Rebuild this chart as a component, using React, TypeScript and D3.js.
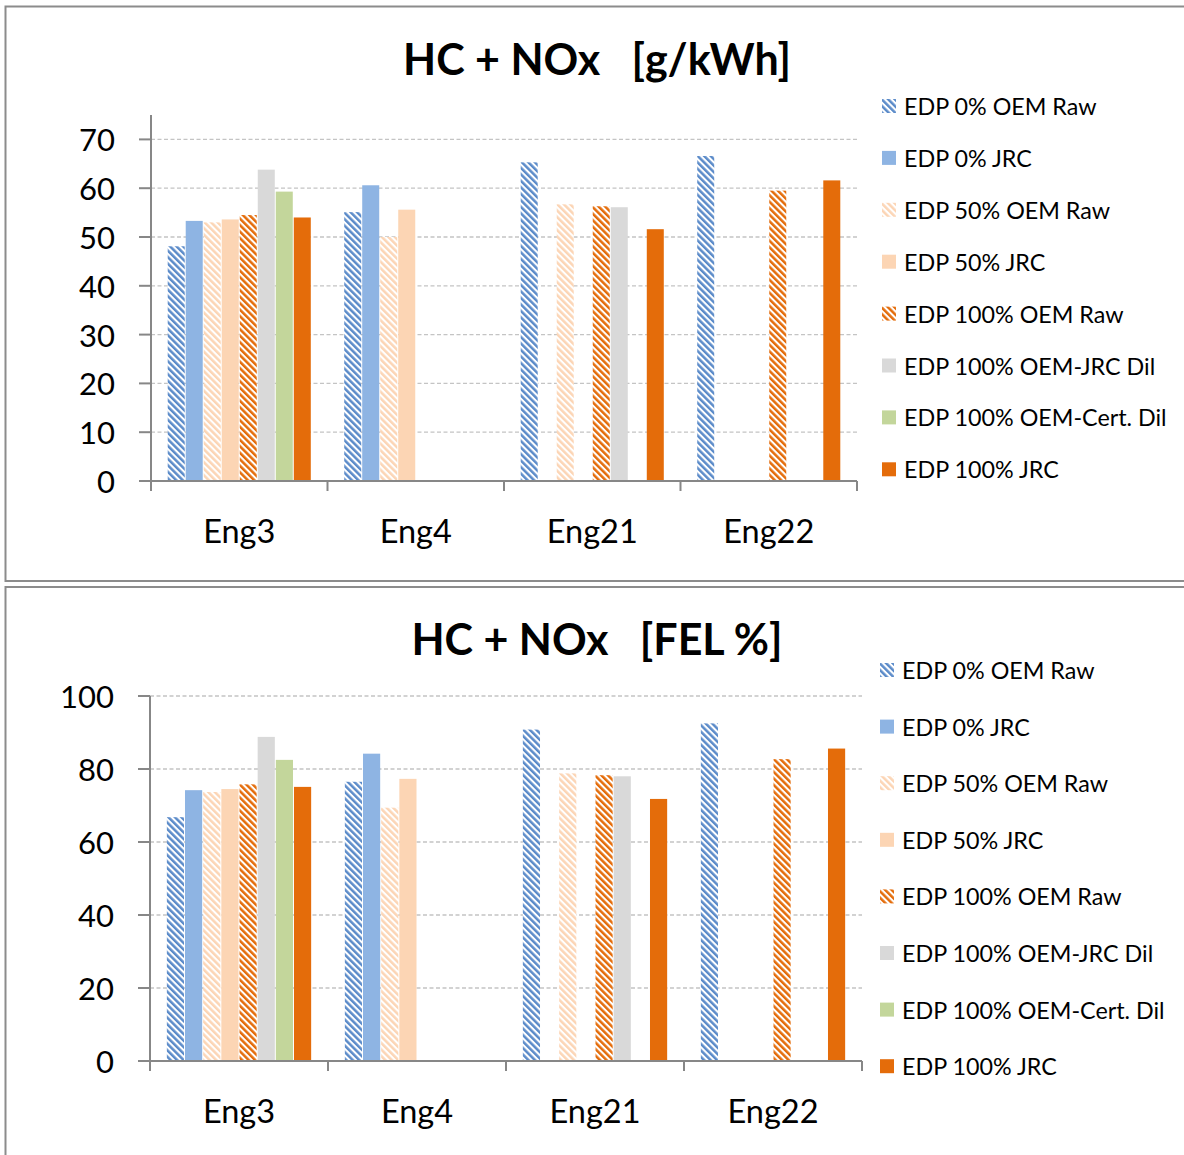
import React from "react";
import * as d3 from "d3";

// Engines on the category axis
const categories = ["Eng3", "Eng4", "Eng21", "Eng22"];

// Series names in legend order
const seriesNames = [
  "EDP 0% OEM Raw",
  "EDP 0% JRC",
  "EDP 50% OEM Raw",
  "EDP 50% JRC",
  "EDP 100% OEM Raw",
  "EDP 100% OEM-JRC Dil",
  "EDP 100% OEM-Cert. Dil",
  "EDP 100% JRC",
];

// HC + NOx in g/kWh, one array per series (Eng3, Eng4, Eng21, Eng22)
const gkwh0Raw = [48.1, 55.1, 65.3, 66.6];
const gkwh0Jrc = [53.3, 60.6, null, null];
const gkwh50Raw = [53.0, 50.0, 56.7, null];
const gkwh50Jrc = [53.6, 55.6, null, null];
const gkwh100Raw = [54.5, null, 56.3, 59.5];
const gkwh100JrcDil = [63.8, null, 56.1, null];
const gkwh100CertDil = [59.3, null, null, null];
const gkwh100Jrc = [54.0, null, 51.6, 61.6];

// HC + NOx as % of FEL
const fel0Raw = [66.8, 76.5, 90.8, 92.5];
const fel0Jrc = [74.2, 84.2, null, null];
const fel50Raw = [73.7, 69.4, 78.8, null];
const fel50Jrc = [74.5, 77.3, null, null];
const fel100Raw = [75.8, null, 78.3, 82.7];
const fel100JrcDil = [88.8, null, 78.0, null];
const fel100CertDil = [82.5, null, null, null];
const fel100Jrc = [75.1, null, 71.8, 85.6];

const gkwhTicks = [0, 10, 20, 30, 40, 50, 60, 70];
const felTicks = [0, 20, 40, 60, 80, 100];

const gkwhSeries = [gkwh0Raw, gkwh0Jrc, gkwh50Raw, gkwh50Jrc, gkwh100Raw, gkwh100JrcDil, gkwh100CertDil, gkwh100Jrc];
const felSeries = [fel0Raw, fel0Jrc, fel50Raw, fel50Jrc, fel100Raw, fel100JrcDil, fel100CertDil, fel100Jrc];

// Fill style per series: hatched ones use a diagonal stripe pattern
const seriesStyle = [
  { color: "#5b8bc9", hatch: true },
  { color: "#8eb4e3", hatch: false },
  { color: "#fcd5b5", hatch: true },
  { color: "#fcd5b4", hatch: false },
  { color: "#e46c0a", hatch: true },
  { color: "#d9d9d9", hatch: false },
  { color: "#c3d69b", hatch: false },
  { color: "#e46c0a", hatch: false },
];

const FONT = "Lato, 'Open Sans', sans-serif";

type PanelProps = {
  id: string;
  title: string;
  series: (number | null)[][];
  ticks: number[];
  yMax: number;
  top: number;
  bottom: number;
  left: number;
  right: number;
  titleY: number;
  legendX: number;
  legendY0: number;
  legendStep: number;
  catLabelY: number;
};

function fillFor(id: string, i: number) {
  const s = seriesStyle[i];
  return s.hatch ? `url(#${id}-hatch-${i})` : s.color;
}

function Panel(p: PanelProps) {
  const y = d3.scaleLinear().domain([0, p.yMax]).range([p.bottom, p.top]);
  const x = d3.scaleBand().domain(categories).range([p.left, p.right]).padding(0);
  const xs = d3
    .scaleBand()
    .domain(seriesNames)
    .range([0, x.bandwidth()])
    .paddingInner(0)
    .paddingOuter(0.9);
  const boundaries = categories.map((c) => x(c) as number).concat([p.right]);

  return (
    <g>
      <defs>
        {seriesStyle.map((s, i) =>
          s.hatch ? (
            <pattern
              key={i}
              id={`${p.id}-hatch-${i}`}
              patternUnits="userSpaceOnUse"
              width={4.6}
              height={4.6}
              patternTransform="rotate(-45)"
            >
              <rect width={4.6} height={4.6} fill="#ffffff" />
              <rect width={2.5} height={4.6} fill={s.color} />
            </pattern>
          ) : null
        )}
      </defs>

      <text
        x={597}
        y={p.titleY}
        textAnchor="middle"
        dominantBaseline="central"
        fontFamily={FONT}
        fontWeight="bold"
        fontSize={43}
        fill="#000"
        style={{ whiteSpace: "pre" }}
      >
        {p.title}
      </text>

      {/* gridlines */}
      {p.ticks.filter((t) => t > 0).map((t) => (
        <line
          key={`g${t}`}
          x1={p.left}
          x2={p.right}
          y1={y(t)}
          y2={y(t)}
          stroke="#c4c4c4"
          strokeWidth={1.3}
          strokeDasharray="4 2.5"
        />
      ))}

      {/* bars */}
      {p.series.map((vals, si) =>
        vals.map((v, ci) =>
          v == null ? null : (
            <rect
              key={`b${si}-${ci}`}
              x={(x(categories[ci]) as number) + (xs(seriesNames[si]) as number) + 0.5}
              width={xs.bandwidth() - 1}
              y={y(v)}
              height={y(0) - y(v)}
              fill={fillFor(p.id, si)}
            />
          )
        )
      )}

      {/* value axis */}
      <line x1={p.left} x2={p.left} y1={y(p.yMax)} y2={y(0)} stroke="#878787" strokeWidth={2} />
      {p.ticks.map((t) => (
        <g key={`t${t}`}>
          <line x1={p.left - 12} x2={p.left} y1={y(t)} y2={y(t)} stroke="#878787" strokeWidth={2} />
          <text
            x={p.left - 36}
            y={y(t)}
            textAnchor="end"
            dominantBaseline="central"
            fontFamily={FONT}
            fontSize={31}
            fill="#000"
          >
            {t}
          </text>
        </g>
      ))}

      {/* category axis */}
      <line x1={p.left} x2={p.right} y1={y(0)} y2={y(0)} stroke="#878787" strokeWidth={2} />
      {boundaries.map((bx, i) => (
        <line key={`c${i}`} x1={bx} x2={bx} y1={y(0)} y2={y(0) + 10} stroke="#878787" strokeWidth={2} />
      ))}
      {categories.map((c) => (
        <text
          key={c}
          x={(x(c) as number) + x.bandwidth() / 2}
          y={p.catLabelY}
          textAnchor="middle"
          dominantBaseline="central"
          fontFamily={FONT}
          fontSize={32.5}
          fill="#000"
        >
          {c}
        </text>
      ))}

      {/* legend */}
      {seriesNames.map((n, i) => {
        const ly = p.legendY0 + i * p.legendStep;
        return (
          <g key={n}>
            <rect x={p.legendX} y={ly - 7} width={14} height={14} fill={fillFor(p.id, i)} />
            <text
              x={p.legendX + 22}
              y={ly}
              dominantBaseline="central"
              fontFamily={FONT}
              fontSize={23.3}
              fill="#000"
            >
              {n}
            </text>
          </g>
        );
      })}
    </g>
  );
}

export default function App() {
  return (
    <svg
      width={1184}
      height={1155}
      style={{ position: "absolute", left: 0, top: 0, background: "#fff" }}
    >
      <rect x={0} y={0} width={1184} height={1155} fill="#fff" />
      {/* panel frames */}
      <rect x={5.5} y={6.5} width={1200} height={574.5} fill="none" stroke="#8c8c8c" strokeWidth={2} />
      <rect x={5.5} y={587} width={1200} height={600} fill="none" stroke="#8c8c8c" strokeWidth={2} />

      <Panel
        id="gkwh"
        title={"HC + NOx   [g/kWh]"}
        series={gkwhSeries}
        ticks={gkwhTicks}
        yMax={75}
        top={115}
        bottom={481}
        left={151}
        right={857}
        titleY={58}
        legendX={882}
        legendY0={106}
        legendStep={51.9}
        catLabelY={530}
      />
      <Panel
        id="fel"
        title={"HC + NOx   [FEL %]"}
        series={felSeries}
        ticks={felTicks}
        yMax={100}
        top={696}
        bottom={1061}
        left={150}
        right={862}
        titleY={638}
        legendX={880}
        legendY0={670}
        legendStep={56.6}
        catLabelY={1110}
      />
    </svg>
  );
}
